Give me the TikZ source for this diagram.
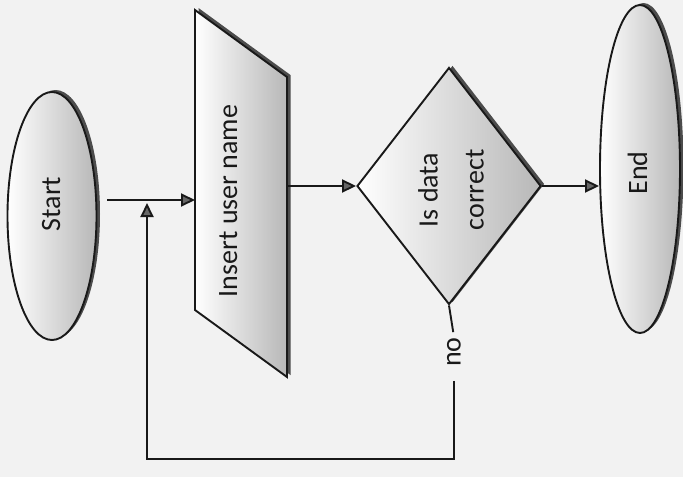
\documentclass[tikz,border=0pt]{standalone}
\usepackage{fontspec}
\setmainfont{Carlito}
\usetikzlibrary{shapes.geometric,arrows.meta,shadows}
\begin{document}
\begin{tikzpicture}[x=1pt,y=-1pt,
  outline/.style={draw=black!90, line width=1.9pt},
  grad/.style={left color=white, right color=black!28},
  shadowed/.style={general shadow={fill=black!70, shadow xshift=3.5pt, shadow yshift=2pt}},
  term/.style={ellipse, outline, grad, shadowed, inner sep=0pt},
  lbl/.style={rotate=90, font=\fontsize{28}{46}\selectfont, text=black!90, inner sep=0pt},
  conn/.style={draw=black!90, line width=1.9pt},
  arr/.style={conn, -{Triangle[length=14pt,width=13pt,fill=black!60]}},
]
\useasboundingbox (0,0) rectangle (683,477);
\fill[black!5] (0,0) rectangle (683,477);

% shapes
\node[term, minimum width=89pt, minimum height=248pt] (start) at (52,216) {};
\path[outline, grad, shadowed] (195,10) coordinate (pTL) -- (287,77) coordinate (pTR)
  -- (287,377) coordinate (pBR) -- (195,310) coordinate (pBL) -- cycle;
\node[diamond, outline, grad, shadowed, minimum width=184pt, minimum height=237pt, inner sep=0pt] (dec) at (449,186) {};
\node[term, minimum width=80pt, minimum height=328pt] (end) at (640,169) {};

% texts
\node[lbl, anchor=base] (tstart) at (60,204) {Start};
\node[lbl, anchor=base] (tins) at (237,201) {Insert user name};
\node[lbl, align=center] (tdec) at (451,190) {Is data\\correct};
\node[lbl] (tno) at (454,352) {no};
\node[lbl, anchor=base] (tend) at (647,173) {End};

% connectors
\coordinate (s0) at (107,200);
\coordinate (loopc) at (147,459);
\draw[arr] (s0) -- (s0 -| pTL);
\draw[arr] (dec.west -| pTR) -- (dec.west);
\draw[arr] (dec.east) -- (dec.east -| end.west);
\draw[conn, shorten >=5pt] (dec.south) -- (tno.east);
\draw[arr, shorten <=14pt, shorten >=3pt] (tno.west) |- (loopc) -- (loopc |- s0);
\end{tikzpicture}
\end{document}
